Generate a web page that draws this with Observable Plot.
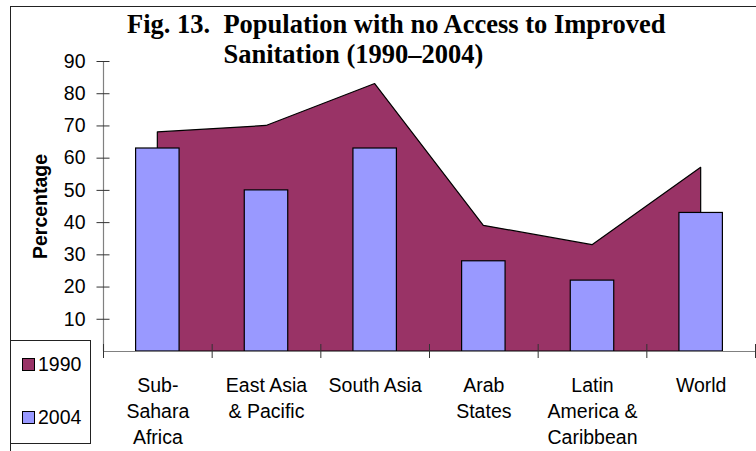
<!DOCTYPE html>
<html>
<head>
<meta charset="utf-8">
<script src="https://cdn.jsdelivr.net/npm/d3@7"></script>
<script src="https://cdn.jsdelivr.net/npm/@observablehq/plot@0.6"></script>
<style>
  body { margin: 0; background: #fff; }
  #chart { position: relative; width: 756px; height: 451px; overflow: hidden; }
  #chart svg { position: absolute; left: 0; top: 0; }
  #frame { position: absolute; left: 10px; top: 6px; width: 820px; height: 520px;
           border: 1px solid #222; box-sizing: border-box; }
  #title { position: absolute; left: 127px; top: 9px; display: flex;
           font: bold 26.5px "Liberation Serif", "Times New Roman", serif;
           line-height: 30px; color: #000; white-space: pre; }
  #legend { position: absolute; left: 10px; top: 340px; width: 81px; height: 104px;
            border: 1px solid #222; box-sizing: border-box; background: #fff;
            font: 19.5px "Liberation Sans", Arial, sans-serif; color: #000; }
  .item { position: absolute; left: 11px; display: flex; align-items: center; }
  .sw { width: 13px; height: 13px; border: 1px solid #000; box-sizing: border-box; margin-right: 3px; }
</style>
</head>
<body>
<div id="chart">
  <div id="frame"></div>
</div>
<script>
// Regions and the share of population without improved sanitation (%)
const categories = ["Sub-\nSahara\nAfrica", "East Asia\n& Pacific", "South Asia", "Arab\nStates", "Latin\nAmerica &\nCaribbean", "World"];
const values1990 = [68, 70, 83, 39, 33, 57];
const values2004 = [63, 50, 63, 28, 22, 43];
const yTicks = [10, 20, 30, 40, 50, 60, 70, 80, 90];
const seriesNames = ["1990", "2004"];
const seriesColors = ["#993366", "#9999FF"];

const rows = categories.map((name, i) => ({i, name, v1990: values1990[i], v2004: values2004[i]}));
const bounds = d3.range(-0.5, categories.length, 1);   // category boundaries on the index axis
const half = 0.2;                                       // half bar width, in category units
const font = "Liberation Sans, Arial, sans-serif";
const fs = 19.5;

const plot = Plot.plot({
  width: 756,
  height: 451,
  marginLeft: 103,
  marginRight: 1,
  marginTop: 61,
  marginBottom: 100,
  style: {fontFamily: font, fontSize: fs + "px", background: "transparent", color: "#000"},
  x: {domain: [-0.5, categories.length - 0.5], axis: null},
  y: {domain: [0, 90], axis: null},
  marks: [
    Plot.areaY(rows, {x: "i", y: "v1990", fill: seriesColors[0], stroke: "#000", strokeWidth: 1.2}),
    Plot.rectY(rows, {x1: d => d.i - half, x2: d => d.i + half, y: "v2004",
                      fill: seriesColors[1], stroke: "#000", strokeWidth: 1.2}),
    Plot.ruleX([-0.5], {stroke: "#808080", strokeWidth: 1.2}),
    Plot.ruleY([0], {stroke: "#808080", strokeWidth: 1.2}),
    Plot.ruleY(yTicks, {x1: -0.5, x2: -0.5, insetLeft: -6.5, insetRight: -6.5, stroke: "#333"}),
    Plot.ruleX(bounds, {y1: 0, y2: 0, insetTop: -7, insetBottom: -7, stroke: "#333"}),
    Plot.axisY(yTicks, {tickSize: 0, tickPadding: 18, fontSize: fs, label: null}),
    Plot.text(rows, {x: "i", y: 0, text: "name", lineAnchor: "top", dy: 22,
                     fontSize: fs, lineHeight: 26 / fs}),
    Plot.text(["Percentage"], {frameAnchor: "left", textAnchor: "middle", rotate: -90, dx: -63,
                               fontWeight: "bold", fontSize: fs})
  ]
});

const chart = document.getElementById("chart");
chart.appendChild(plot);

// Title with a hanging indent after the figure number
const title = document.createElement("div");
title.id = "title";
title.innerHTML = "<span>Fig. 13.  </span><span>Population with no Access to Improved\nSanitation (1990\u20132004)</span>";
chart.appendChild(title);

// Legend box
const legend = document.createElement("div");
legend.id = "legend";
seriesNames.forEach((name, k) => {
  const item = document.createElement("div");
  item.className = "item";
  item.style.top = (k === 0 ? 12 : 65) + "px";
  item.innerHTML = `<div class="sw" style="background:${seriesColors[k]}"></div><span>${name}</span>`;
  legend.appendChild(item);
});
chart.appendChild(legend);
</script>
</body>
</html>
